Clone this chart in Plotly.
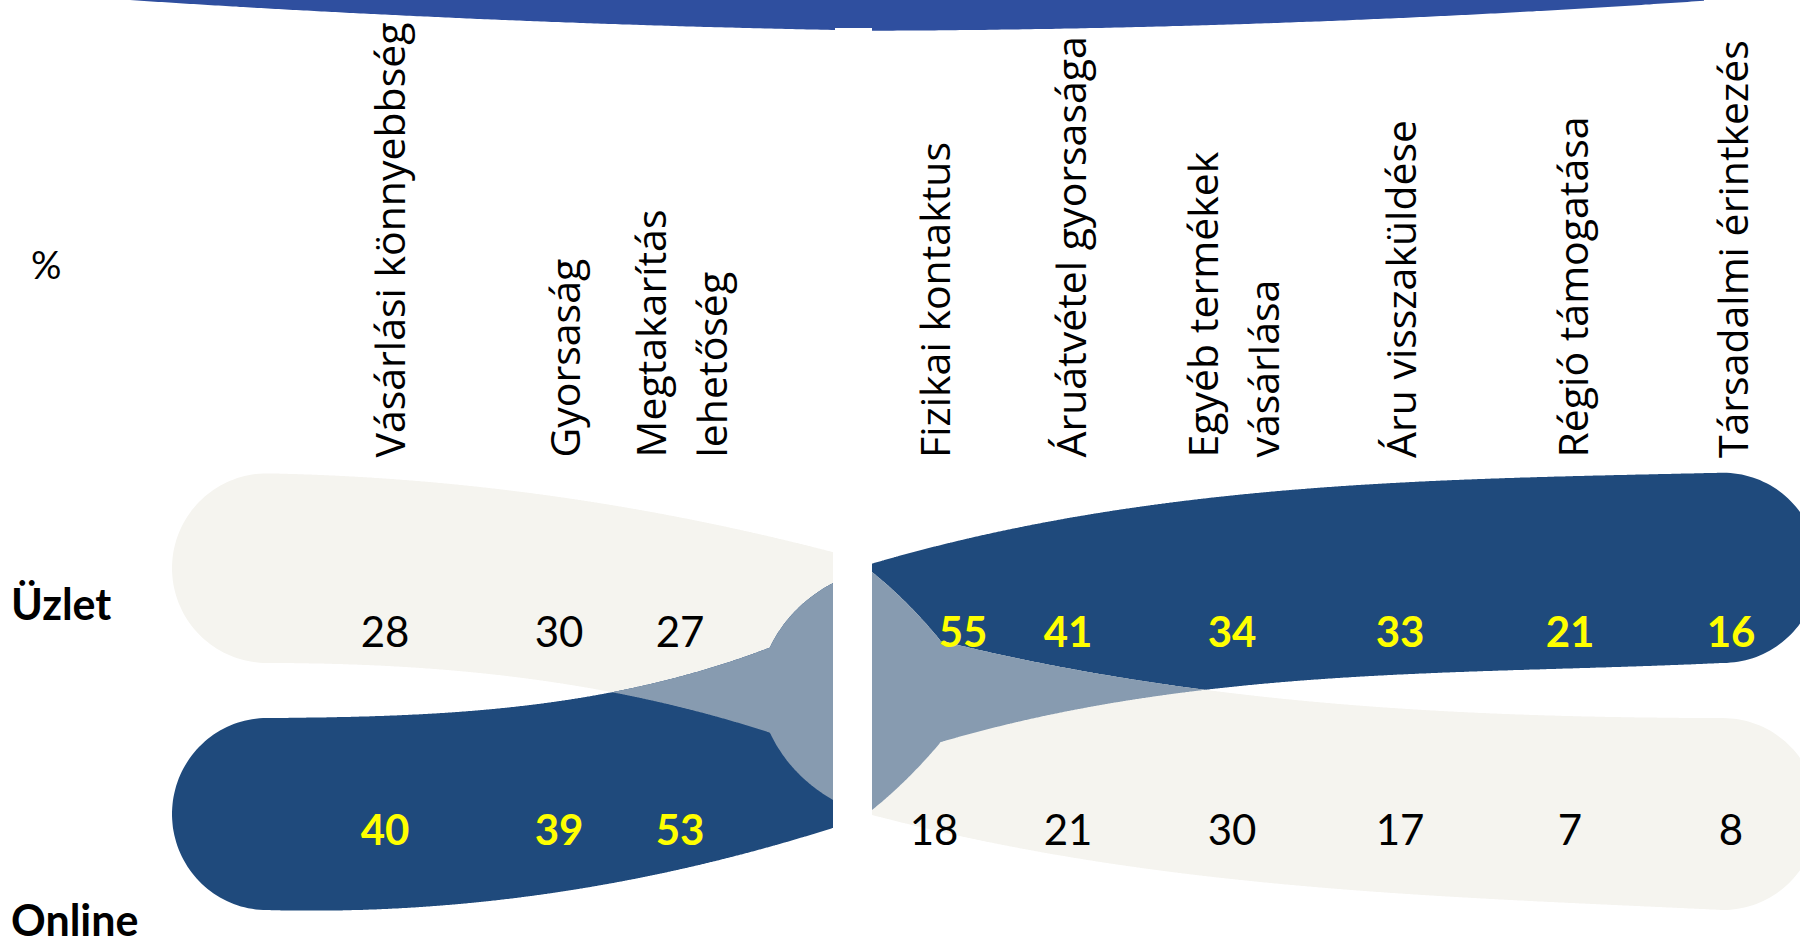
import numpy as np
import plotly.graph_objects as go

# ---- data -----------------------------------------------------------------
categories = [
    "Vásárlási könnyebbség",
    "Gyorsaság",
    "Megtakarítás<br>lehetőség",
    "Fizikai kontaktus",
    "Áruátvétel gyorsasága",
    "Egyéb termékek<br>vásárlása",
    "Áru visszaküldése",
    "Régió támogatása",
    "Társadalmi érintkezés",
]
store_pct = [28, 30, 27, 55, 41, 34, 33, 21, 16]
online_pct = [40, 39, 53, 18, 21, 30, 17, 7, 8]
row_names = ["Üzlet", "Online"]
unit_label = "%"

# ---- layout constants (canvas pixels) --------------------------------------
W, H = 1800, 948
col_x = [385, 559, 680, 934, 1068, 1232, 1400, 1570, 1731]
store_dx = [0, 0, 0, 29, 0, 0, 0, 0, 0]
label_dx = [3, 4, 0, 0, 1, 0, 0, 1, 1]
row_y = [636, 834]
label_base_y = 460
label_line_gap = 61

LIGHT = "#F5F4EF"
DARK = "#1F4A7C"
OVERLAP = "#879BB0"
BANNER = "#2F4F9F"
YELLOW = "#FFFF00"


def smooth_edge(points, xs, deg=2):
    px, py = np.array(points, dtype=float).T
    return np.polyval(np.polyfit(px, py, deg), xs)


def bezier(p0, c, p1, n=80):
    t = np.linspace(0, 1, n)[:, None]
    return (1 - t) ** 2 * np.array(p0, float) + 2 * t * (1 - t) * np.array(c, float) + t ** 2 * np.array(p1, float)


def flared(xs, main_pts, flare, deg=3):
    """Edge following main_pts that bends sharply along a quadratic flare near the gap."""
    y = smooth_edge(main_pts, xs, deg)
    b = bezier(*flare)
    order = np.argsort(b[:, 0])
    bx, by = b[order, 0], b[order, 1]
    inside = (xs >= bx.min()) & (xs <= bx.max())
    y[inside] = np.interp(xs[inside], bx, by)
    return y


def to_path(pts):
    return "M " + " L ".join(f"{x:.1f},{y:.1f}" for x, y in pts) + " Z"


def band_path(xs, top, bot, cap_side, rx=95):
    i = 0 if cap_side < 0 else -1
    cx = xs[i]
    cy = (top[i] + bot[i]) / 2
    ry = (bot[i] - top[i]) / 2
    if cap_side < 0:
        th = np.linspace(np.pi / 2, 3 * np.pi / 2, 80)
    else:
        th = np.linspace(-np.pi / 2, np.pi / 2, 80)
    cap = np.c_[cx + rx * np.cos(th), cy + ry * np.sin(th)]
    top_pts = np.c_[xs, top]
    bot_pts = np.c_[xs[::-1], bot[::-1]]
    if cap_side < 0:
        pts = np.vstack([top_pts, bot_pts, cap])
    else:
        pts = np.vstack([top_pts, cap, bot_pts])
    return to_path(pts)


def overlap_path(xs, tops, bots):
    up = np.maximum(*tops)
    lo = np.minimum(*bots)
    m = lo > up
    pts = np.vstack([np.c_[xs[m], up[m]], np.c_[xs[m][::-1], lo[m][::-1]]])
    return to_path(pts)


# ---- band geometry ---------------------------------------------------------
# left group: online preferred, right group: store preferred
xl = np.linspace(267, 833, 700)
l_up_top = smooth_edge([(267, 473), (517, 493), (689, 517), (833, 553)], xl, 2)
l_up_bot = flared(xl, [(267, 663), (517, 677), (608, 692), (720, 717), (770, 733)],
                  ((770, 733), (790, 775), (833, 800)))
l_lo_top = flared(xl, [(267, 718), (517, 707), (608, 692), (720, 666), (770, 647)],
                  ((770, 647), (790, 606), (833, 583)))
l_lo_bot = smooth_edge([(267, 910), (517, 898), (689, 867), (833, 828)], xl, 2)

xr = np.linspace(872, 1723, 900)
r_up_top = smooth_edge([(872, 565), (900, 555), (1020, 525), (1213, 500), (1474, 478), (1723, 473)], xr, 3)
r_up_bot = flared(xr, [(940, 743), (1020, 720), (1213, 690), (1400, 674), (1723, 663)],
                  ((940, 743), (908, 781), (872, 810)))
r_lo_top = flared(xr, [(940, 640), (1020, 660), (1213, 690), (1474, 713), (1723, 718)],
                  ((940, 640), (908, 601), (872, 572)))
r_lo_bot = smooth_edge([(872, 815), (900, 822), (1213, 877), (1474, 898), (1723, 910)], xr, 3)

left_store_wins = store_pct[0] > online_pct[0]
right_store_wins = store_pct[-1] > online_pct[-1]

shapes = []


def add_shape(path, color):
    shapes.append(dict(type="path", path=path, xref="x", yref="y",
                       fillcolor=color, line=dict(width=0), layer="below"))


# banner arc along the top edge
bxl = np.linspace(130, 835, 200)
byl = smooth_edge([(130, 0), (330, 12), (559, 22), (835, 30)], bxl, 2)
bxr = np.linspace(872, 1704, 200)
byr = smooth_edge([(872, 31), (1244, 23), (1531, 13), (1704, 0)], bxr, 2)
banner_pts = np.vstack([[[130, -5]], np.c_[bxl, byl], [[835, 28], [872, 28]],
                        np.c_[bxr, byr], [[1704, -5]]])
add_shape(to_path(banner_pts), BANNER)

add_shape(band_path(xl, l_up_top, l_up_bot, -1), DARK if left_store_wins else LIGHT)
add_shape(band_path(xl, l_lo_top, l_lo_bot, -1), LIGHT if left_store_wins else DARK)
add_shape(overlap_path(xl, (l_up_top, l_lo_top), (l_up_bot, l_lo_bot)), OVERLAP)

add_shape(band_path(xr, r_up_top, r_up_bot, 1), DARK if right_store_wins else LIGHT)
add_shape(band_path(xr, r_lo_top, r_lo_bot, 1), LIGHT if right_store_wins else DARK)
add_shape(overlap_path(xr, (r_up_top, r_lo_top), (r_up_bot, r_lo_bot)), OVERLAP)

# ---- figure ----------------------------------------------------------------
fig = go.Figure()


def value_trace(values, other, xs, y):
    wins = [v > o for v, o in zip(values, other)]
    return go.Scatter(
        x=xs, y=[y] * len(values), mode="text",
        text=[f"<b>{v}</b>" if w else str(v) for v, w in zip(values, wins)],
        textposition="middle center",
        textfont=dict(family="Lato", size=42, color=[YELLOW if w else "black" for w in wins]),
        hoverinfo="skip", cliponaxis=False, showlegend=False,
    )


fig.add_trace(value_trace(store_pct, online_pct, [x + d for x, d in zip(col_x, store_dx)], row_y[0]))
fig.add_trace(value_trace(online_pct, store_pct, col_x, row_y[1]))

annotations = []
label_font = dict(family="Open Sans", size=41, color="black")
for x, d, lab in zip(col_x, label_dx, categories):
    lines = lab.split("<br>")
    n = len(lines)
    for k, line in enumerate(lines):
        annotations.append(dict(
            x=x + d + (k - (n - 1) / 2) * label_line_gap, y=label_base_y,
            xref="x", yref="y", text=line, textangle=-90,
            xanchor="center", yanchor="bottom", showarrow=False, font=label_font,
        ))

row_font = dict(family="Lato", size=43, color="black")
annotations.append(dict(x=9, y=603, xref="x", yref="y", text=f"<b>{row_names[0]}</b>",
                        xanchor="left", yanchor="middle", showarrow=False, font=row_font))
annotations.append(dict(x=9, y=947, xref="x", yref="y", text=f"<b>{row_names[1]}</b>",
                        xanchor="left", yanchor="bottom", showarrow=False, font=row_font))
annotations.append(dict(x=46, y=264, xref="x", yref="y", text=unit_label,
                        xanchor="center", yanchor="middle", showarrow=False,
                        font=dict(family="Lato", size=38, color="black")))

fig.update_layout(
    width=W, height=H, autosize=False,
    margin=dict(l=0, r=0, t=0, b=0, pad=0),
    paper_bgcolor="white", plot_bgcolor="white",
    xaxis=dict(range=[0, W], visible=False, fixedrange=True),
    yaxis=dict(range=[H, 0], visible=False, fixedrange=True),
    shapes=shapes, annotations=annotations, showlegend=False,
)

fig.write_html("out.html")
